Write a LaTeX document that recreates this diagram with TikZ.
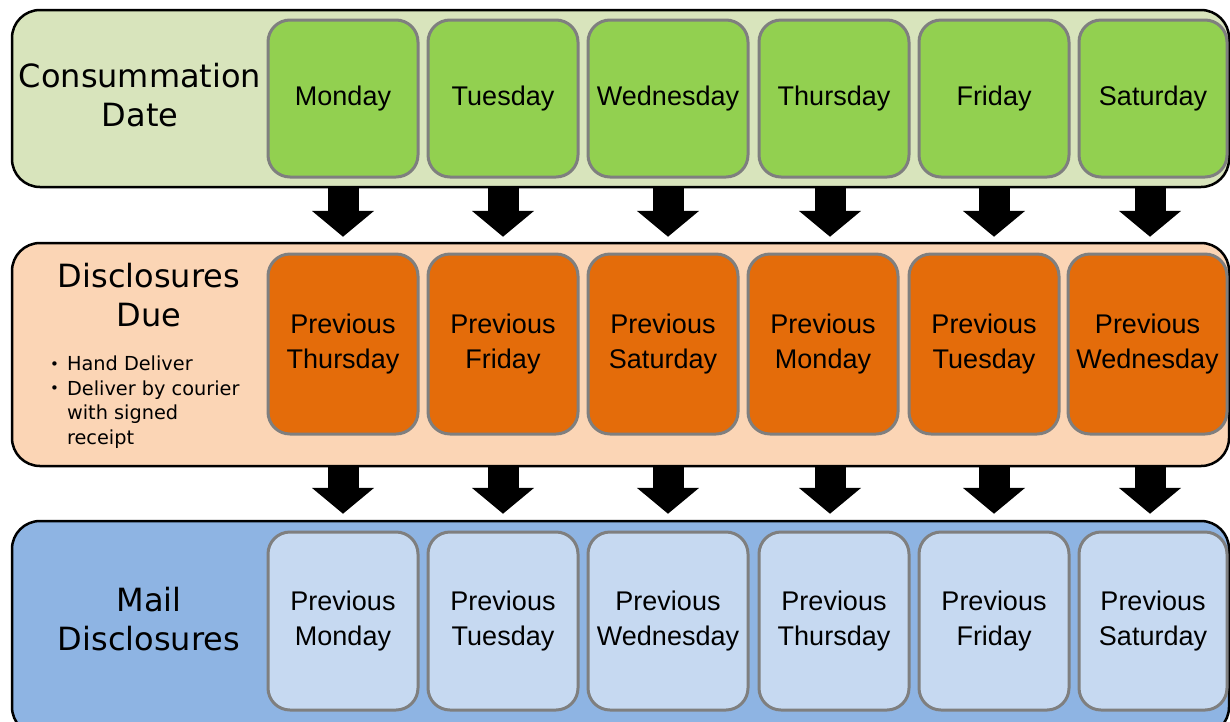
\documentclass[tikz,border=0pt]{standalone}
\usepackage{fontspec}
\setmainfont{Liberation Sans}
\newfontfamily\verd{DejaVu Sans}
\usetikzlibrary{arrows.meta}
\definecolor{topbg}{HTML}{D8E4BC}
\definecolor{topbox}{HTML}{92D050}
\definecolor{midbg}{HTML}{FBD5B5}
\definecolor{midbox}{HTML}{E46C0A}
\definecolor{botbg}{HTML}{8EB4E3}
\definecolor{botbox}{HTML}{C6D9F1}
\definecolor{boxline}{HTML}{7F7F7F}
\begin{document}
\begin{tikzpicture}[x=1pt,y=-1pt,
  band/.style={draw=black, line width=2.5pt, rounded corners=28pt, inner sep=0pt, minimum width=1217pt},
  daybox/.style={draw=boxline, line width=3pt, rounded corners=22pt, inner sep=0pt, align=center,
    font=\fontsize{27}{35}\selectfont},
  title/.style={align=center, font=\verd\fontsize{32}{39}\selectfont, inner sep=0pt},
  bigarrow/.style={line width=31pt, -{Triangle[width=61pt 0 0,length=26pt 0 0]}, black}
]
\useasboundingbox (0,0) rectangle (1230,721);
\clip (0,0) rectangle (1230,721);

% bands
\node[band, fill=topbg, minimum height=177pt] (bandA) at (620.5,98.5) {};
\node[band, fill=midbg, minimum height=223pt] (bandB) at (620.5,354.5) {};
\node[band, fill=botbg, minimum height=214pt] (bandC) at (620.5,628) {};

% titles
\node[title] (tA) at (140,95) {Consummation\\Date};
\node[title] (tB) at (149,295) {Disclosures\\Due};
\node[title] (tC) at (149,619) {Mail\\Disclosures};
\node[anchor=north west, inner sep=0pt, font=\verd\fontsize{19.3}{24.5}\selectfont] (bul) at (50,353.5)
  {\begin{tabular}{@{}l@{\hspace{8pt}}l@{}}
   {\fontsize{15}{24.5}\selectfont\raisebox{1.5pt}{•}} & Hand Deliver\\
   {\fontsize{15}{24.5}\selectfont\raisebox{1.5pt}{•}} & Deliver by courier\\
   & with signed\\
   & receipt
   \end{tabular}};

% row 1
\begin{scope}[every node/.style={daybox, fill=topbox, minimum height=157pt, minimum width=150pt}]
\node (a1) at (343,98.5) {Monday};
\node (a2) at (503,98.5) {Tuesday};
\node[minimum width=160pt] (a3) at (668,98.5) {Wednesday};
\node (a4) at (834,98.5) {Thursday};
\node (a5) at (994,98.5) {Friday};
\node[minimum width=148pt] (a6) at (1153,98.5) {Saturday};
\end{scope}

% row 2
\begin{scope}[every node/.style={daybox, fill=midbox, minimum height=180pt, minimum width=150pt}]
\node (b1) at (343,344) {Previous\\Thursday};
\node (b2) at (503,344) {Previous\\Friday};
\node (b3) at (663,344) {Previous\\Saturday};
\node (b4) at (823,344) {Previous\\Monday};
\node (b5) at (984,344) {Previous\\Tuesday};
\node[minimum width=159pt] (b6) at (1147.5,344) {Previous\\Wednesday};
\end{scope}

% row 3
\begin{scope}[every node/.style={daybox, fill=botbox, minimum height=178pt, minimum width=150pt}]
\node (c1) at (343,621) {Previous\\Monday};
\node (c2) at (503,621) {Previous\\Tuesday};
\node[minimum width=160pt] (c3) at (668,621) {Previous\\Wednesday};
\node (c4) at (834,621) {Previous\\Thursday};
\node (c5) at (994,621) {Previous\\Friday};
\node[minimum width=148pt] (c6) at (1153,621) {Previous\\Saturday};
\end{scope}

% arrows
\foreach \n/\xs in {1/0,2/0,3/0,4/-4,5/0,6/-3}{
  \draw[bigarrow, shorten >=5pt] ([xshift=\xs pt]a\n.south |- bandA.south) -- ([xshift=\xs pt]a\n.south |- bandB.north);
  \draw[bigarrow, shorten >=6pt] ([xshift=\xs pt]c\n.north |- bandB.south) -- ([xshift=\xs pt]c\n.north |- bandC.north);
}
\end{tikzpicture}
\end{document}
